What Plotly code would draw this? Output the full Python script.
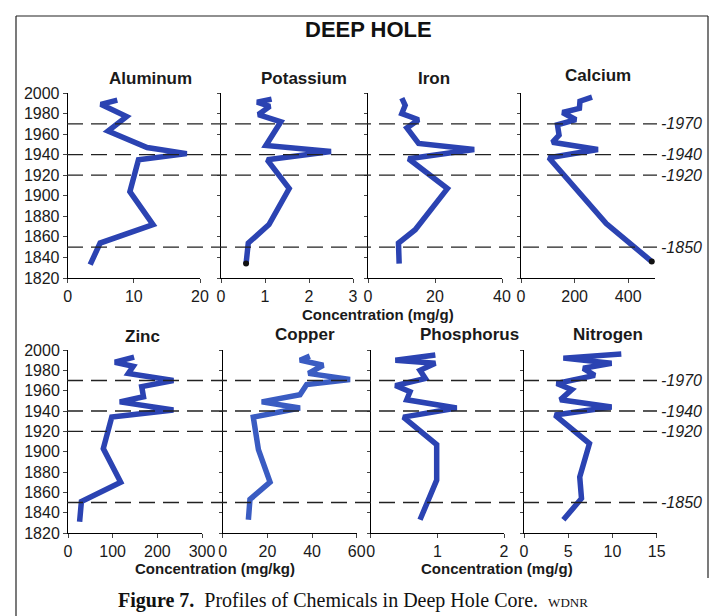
import plotly.graph_objects as go

W, H = 711, 616

# ---------------- data ----------------
aluminum_val = [7.5, 5.0, 8.9, 6.1, 12.0, 18.0, 10.7, 9.4, 12.9, 4.9, 3.4]
aluminum_yr  = [1993, 1989, 1977, 1963, 1947, 1941, 1935, 1904, 1872, 1854, 1833]

potassium_val = [1.15, 0.82, 1.11, 0.85, 1.36, 1.02, 2.5, 1.05, 1.55, 1.09, 0.62, 0.57]
potassium_yr  = [1994, 1991, 1987, 1979, 1972, 1949, 1943, 1935, 1907, 1872, 1854, 1834]

iron_val = [10.1, 11.1, 10.1, 15.1, 11.6, 15.1, 31.7, 12.1, 23.7, 14.1, 9.1, 9.3]
iron_yr  = [1995, 1988, 1980, 1974, 1966, 1951, 1945, 1936, 1907, 1867, 1854, 1834]

calcium_val = [265, 220, 218, 155, 205, 136, 142, 117, 287, 104, 318, 488]
calcium_yr  = [1996, 1992, 1985, 1981, 1974, 1969, 1959, 1952, 1945, 1937, 1873, 1836]

zinc_val = [148, 105, 146, 135, 236, 165, 169, 116, 236, 98, 79, 118, 30, 26]
zinc_yr  = [1993, 1988, 1984, 1977, 1970, 1964, 1954, 1949, 1941, 1934, 1903, 1870, 1851, 1831]

copper_val = [39, 34.6, 45, 38.4, 57, 37.6, 34.6, 17.5, 34.6, 13.7, 16, 21.2, 12.2, 11.5]
copper_yr  = [1994, 1990, 1985, 1977, 1971, 1966, 1956, 1949, 1943, 1934, 1902, 1870, 1853, 1833]

phosphorus_val = [0.97, 0.37, 0.97, 0.74, 0.82, 0.37, 0.59, 0.54, 1.29, 0.49, 0.99, 0.99, 0.74]
phosphorus_yr  = [1995, 1990, 1987, 1980, 1972, 1965, 1959, 1951, 1943, 1934, 1907, 1872, 1833]

nitrogen_val = [11.0, 4.45, 9.9, 6.7, 8.0, 3.7, 5.4, 4.1, 9.9, 3.5, 7.4, 6.3, 6.5, 4.45]
nitrogen_yr  = [1996, 1992, 1987, 1982, 1975, 1967, 1961, 1951, 1944, 1936, 1908, 1875, 1854, 1833]

names = ["Aluminum", "Potassium", "Iron", "Calcium",
         "Zinc", "Copper", "Phosphorus", "Nitrogen"]
values = [aluminum_val, potassium_val, iron_val, calcium_val,
          zinc_val, copper_val, phosphorus_val, nitrogen_val]
years = [aluminum_yr, potassium_yr, iron_yr, calcium_yr,
         zinc_yr, copper_yr, phosphorus_yr, nitrogen_yr]

x_max = [20, 3, 40, 500, 300, 60, 2, 15]
x_ticks = [[0, 10, 20], [0, 1, 2, 3], [0, 20, 40], [0, 200, 400],
           [0, 100, 200, 300], [0, 20, 40, 60], [0, 1, 2], [0, 5, 10, 15]]
year_ticks = list(range(1820, 2001, 20))
marker_years = [1970, 1940, 1920, 1850]

# ---------------- layout geometry (pixels) ----------------
x_px = [(67.7, 200), (221, 353), (368, 502), (521, 655),
        (68, 202), (222.7, 356.7), (370.7, 504), (524, 656.7)]
row_px = [(93, 278), (350, 533)]
title_px = [(150, 78), (304, 78), (434, 78), (598, 76),
            (142, 336), (305, 335), (470, 335), (608, 334)]

def px(x):
    return x / W

def py(y):
    return 1 - y / H

FONT = "Liberation Sans, Arial, Helvetica, sans-serif"
BLUE = "#2b43b2"
COPPER = "#3a5cc2"

fig = go.Figure()
layout = dict(
    width=W, height=H, margin=dict(l=0, r=0, t=0, b=0, pad=0),
    autosize=False,
    paper_bgcolor="white", plot_bgcolor="rgba(0,0,0,0)",
    showlegend=False, font=dict(family=FONT, size=16, color="#1a1a1a"),
)

for i in range(8):
    k = "" if i == 0 else str(i + 1)
    row = 0 if i < 4 else 1
    color = COPPER if names[i] == "Copper" else BLUE
    fig.add_trace(go.Scatter(
        x=values[i], y=years[i], mode="lines",
        line=dict(color=color, width=5.5),
        xaxis="x" + k, yaxis="y" + k, hoverinfo="skip",
    ))
    x0, x1 = x_px[i]
    y0, y1 = row_px[row]
    layout["xaxis" + k] = dict(
        domain=[px(x0), px(x1)], anchor="y" + k, range=[0, x_max[i]],
        tickvals=x_ticks[i], ticks="outside", ticklen=4, tickwidth=1,
        showline=True, linecolor="black", linewidth=1, automargin=False,
        showgrid=False, zeroline=False, tickfont=dict(size=16),
    )
    first_col = i in (0, 4)
    layout["yaxis" + k] = dict(
        domain=[py(y1), py(y0)], anchor="x" + k, range=[1820, 2000],
        tickvals=year_ticks, ticks="outside", ticklen=4 if first_col else 3,
        tickwidth=1, showticklabels=first_col, automargin=False,
        showline=True, linecolor="black", linewidth=1,
        showgrid=False, zeroline=False, tickfont=dict(size=16),
    )

# end-point dots on potassium and calcium
for i in (1, 3):
    k = "" if i == 0 else str(i + 1)
    fig.add_trace(go.Scatter(
        x=[values[i][-1]], y=[years[i][-1]], mode="markers",
        marker=dict(color="#111", size=6),
        xaxis="x" + k, yaxis="y" + k, hoverinfo="skip",
    ))

shapes = []
annotations = []

# dashed reference years across each row, labelled on the right
for row, yref in ((0, "y"), (1, "y5")):
    for yr in marker_years:
        shapes.append(dict(
            type="line", xref="paper", yref=yref,
            x0=px(67), x1=px(657), y0=yr, y1=yr,
            line=dict(color="#222", width=1.3, dash="16px,8px"),
        ))
        annotations.append(dict(
            text="<i>-%d</i>" % yr, xref="paper", yref=yref,
            x=px(659), y=yr, xanchor="left", yanchor="middle",
            showarrow=False, font=dict(size=16, color="#1a1a1a"),
        ))

# panel titles
for i in range(8):
    tx, ty = title_px[i]
    annotations.append(dict(
        text="<b>%s</b>" % names[i], xref="paper", yref="paper",
        x=px(tx), y=py(ty), xanchor="center", yanchor="middle",
        showarrow=False, font=dict(size=17, color="#1a1a1a"),
    ))

# main title
annotations.append(dict(
    text="<b>DEEP HOLE</b>", xref="paper", yref="paper",
    x=px(368), y=py(30), xanchor="center", yanchor="middle",
    showarrow=False, font=dict(size=22, color="#111"),
))

# axis titles
for txt, cx, cy in (("Concentration (mg/g)", 378, 314),
                    ("Concentration (mg/kg)", 215, 568),
                    ("Concentration (mg/g)", 497, 568)):
    annotations.append(dict(
        text="<b>%s</b>" % txt, xref="paper", yref="paper",
        x=px(cx), y=py(cy), xanchor="center", yanchor="middle",
        showarrow=False, font=dict(size=15, color="#1a1a1a"),
    ))

# caption
annotations.append(dict(
    text="<b>Figure 7.</b>  Profiles of Chemicals in Deep Hole Core.  "
         "<span style='font-size:13px'>WDNR</span>",
    xref="paper", yref="paper", x=px(116), y=py(600),
    xanchor="left", yanchor="middle", showarrow=False,
    font=dict(family="Liberation Serif, Times New Roman, serif",
              size=20, color="#111"),
))

# frame around the figure
for x0, y0, x1, y1 in ((16, 16, 708, 16), (16, 16, 16, 616), (708, 16, 708, 578)):
    shapes.append(dict(
        type="line", xref="paper", yref="paper",
        x0=px(x0), y0=py(y0), x1=px(x1), y1=py(y1),
        line=dict(color="#222", width=1.2),
    ))

layout["shapes"] = shapes
layout["annotations"] = annotations
fig.update_layout(**layout)
fig.write_html(
    "out.html",
    config={"responsive": False, "displayModeBar": False},
    post_script="document.body.style.margin='0';document.body.style.overflow='hidden';",
)
